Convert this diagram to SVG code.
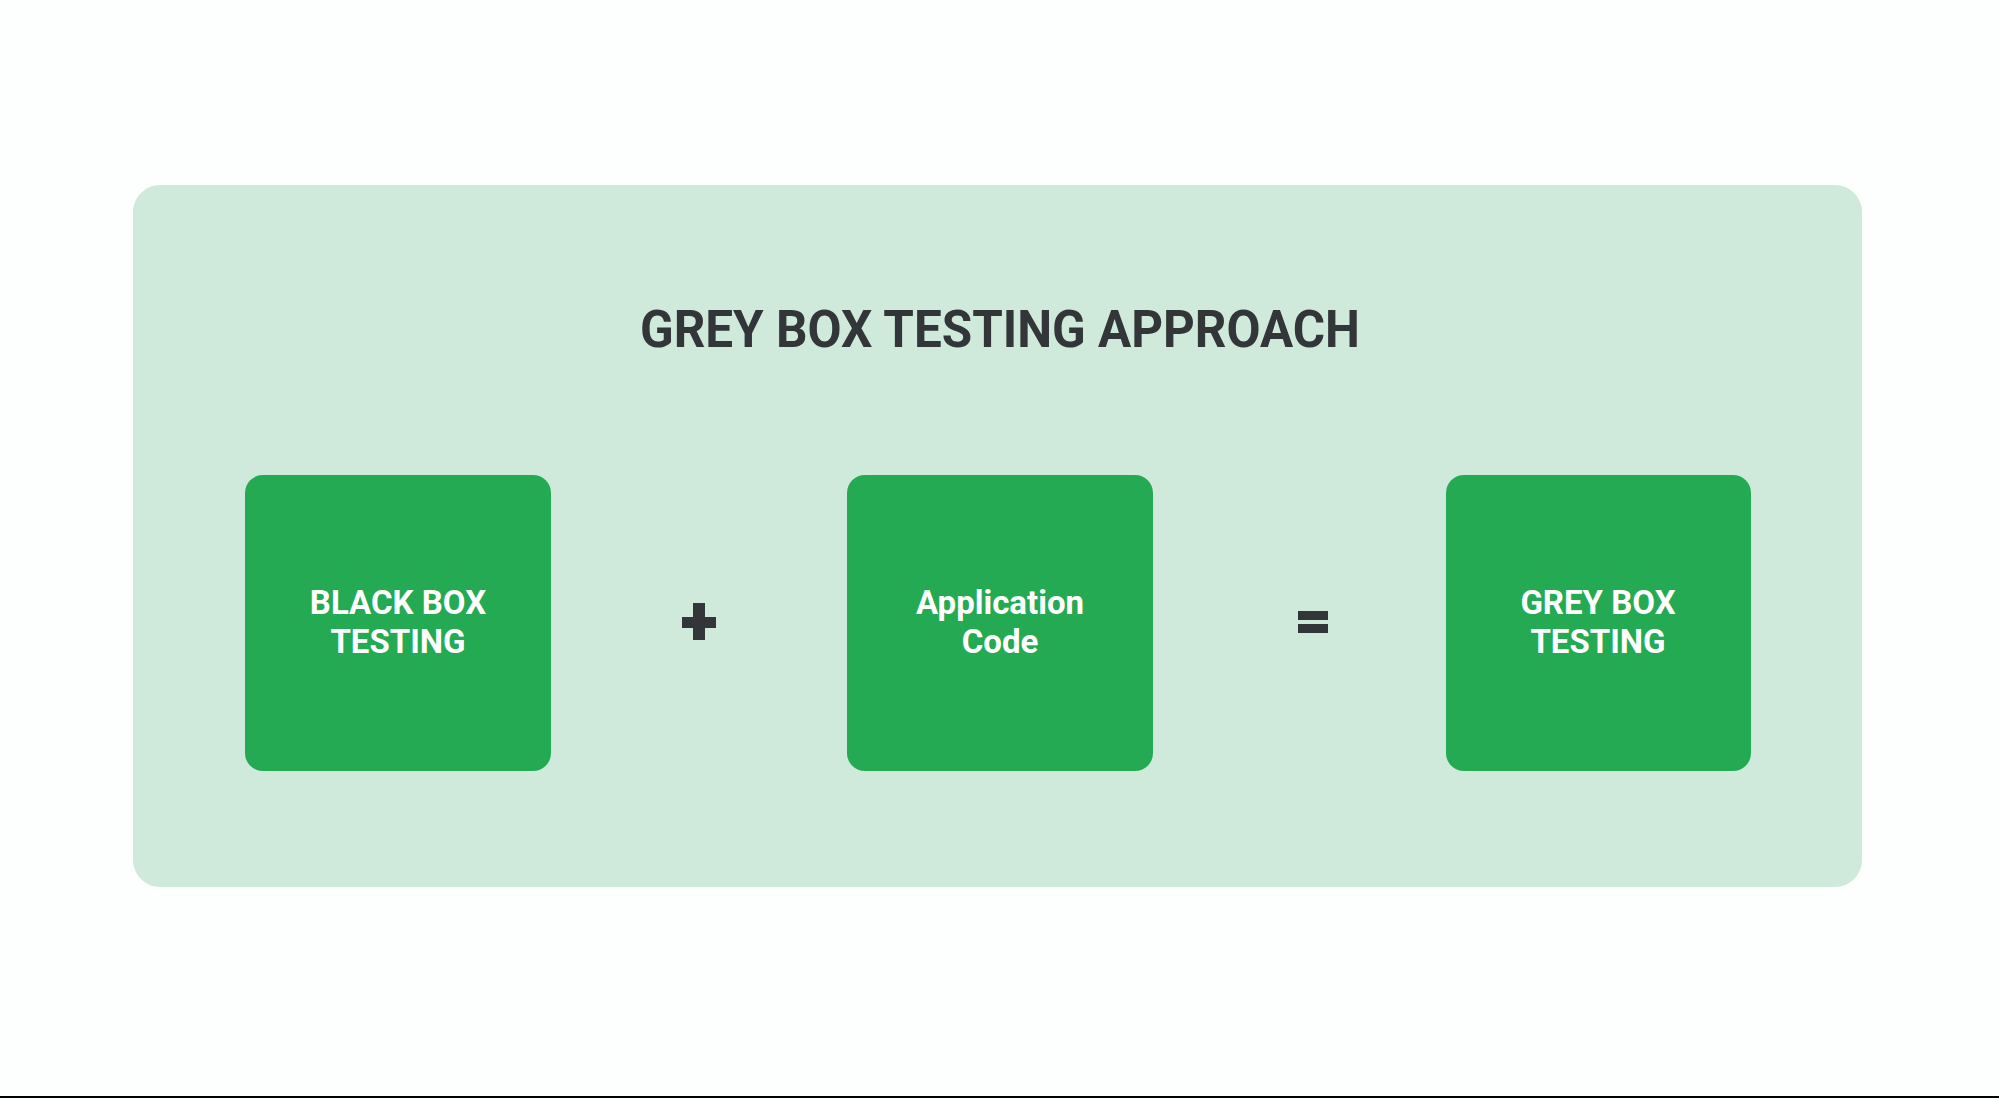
<svg xmlns="http://www.w3.org/2000/svg" width="1999" height="1098" viewBox="0 0 1999 1098">
<style>
.box{fill:#24aa52}
.lbl{font-family:Roboto,"Liberation Sans",sans-serif;font-weight:700;font-size:33px;fill:#ffffff;text-anchor:middle}
.title{font-family:Roboto,"Liberation Sans",sans-serif;font-weight:700;font-size:52px;fill:#333639;text-anchor:middle}
.op{fill:#333639}
</style>
<rect x="0" y="0" width="1999" height="1098" fill="#fdfefe"/>
<rect x="0" y="1096" width="1999" height="2" fill="#000"/>
<g id="panel">
<rect x="133" y="185" width="1729" height="702" rx="27" fill="#cfe9da"/>
<text class="title" x="1000" y="347" textLength="720" lengthAdjust="spacingAndGlyphs">GREY BOX TESTING APPROACH</text>
</g>
<g id="black-box">
<rect class="box" x="245" y="475" width="306" height="296" rx="18"/>
<text class="lbl" x="398" y="614">BLACK BOX</text>
<text class="lbl" x="398" y="653">TESTING</text>
</g>
<g id="application-code">
<rect class="box" x="847" y="475" width="306" height="296" rx="18"/>
<text class="lbl" x="1000" y="614">Application</text>
<text class="lbl" x="1000" y="653">Code</text>
</g>
<g id="grey-box">
<rect class="box" x="1446" y="475" width="305" height="296" rx="18"/>
<text class="lbl" x="1598" y="614">GREY BOX</text>
<text class="lbl" x="1598" y="653">TESTING</text>
</g>
<g id="connectors">
<g id="plus" class="op">
<rect x="693" y="603" width="12" height="37"/>
<rect x="682" y="617" width="34" height="11"/>
</g>
<g id="equals" class="op">
<rect x="1298" y="611" width="30" height="9"/>
<rect x="1298" y="624" width="30" height="9"/>
</g>
</g>
</svg>
